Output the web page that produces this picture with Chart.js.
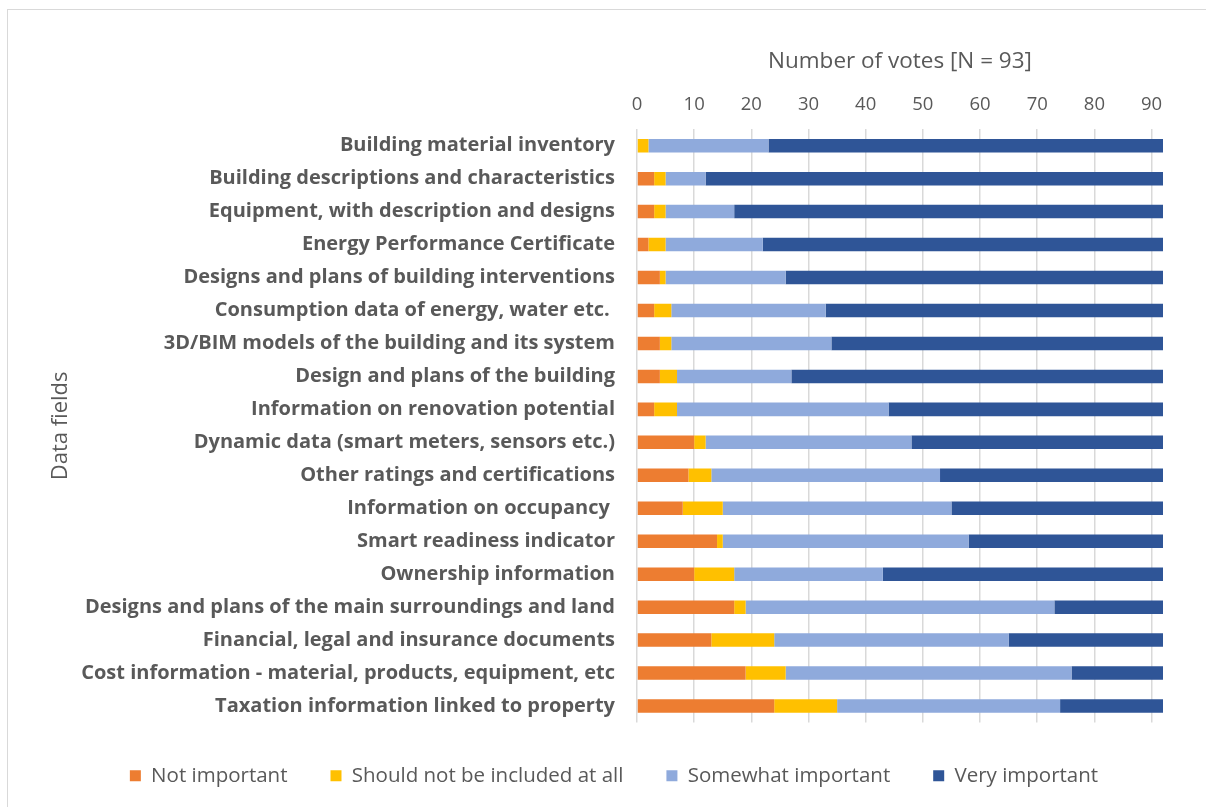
<!DOCTYPE html>
<html>
<head>
<meta charset="utf-8">
<script src="https://cdn.jsdelivr.net/npm/chart.js@4/dist/chart.umd.min.js"></script>
<style>
  html, body { margin: 0; padding: 0; background: #fff; }
  #wrap { position: relative; width: 1206px; height: 807px; overflow: hidden; }
  #frame { position: absolute; left: 7px; top: 9px; width: 1210px; height: 810px; border: 1px solid #d9d9d9; box-sizing: border-box; }
  #chart { position: absolute; left: 0; top: 0; }
</style>
</head>
<body>
<div id="wrap">
  <div id="frame"></div>
  <canvas id="chart" width="1206" height="807"></canvas>
</div>
<script>
// data fields, top to bottom
const fields = [
  "Building material inventory",
  "Building descriptions and characteristics",
  "Equipment, with description and designs",
  "Energy Performance Certificate",
  "Designs and plans of building interventions",
  "Consumption data of energy, water etc. ",
  "3D/BIM models of the building and its system",
  "Design and plans of the building",
  "Information on renovation potential",
  "Dynamic data (smart meters, sensors etc.)",
  "Other ratings and certifications",
  "Information on occupancy ",
  "Smart readiness indicator",
  "Ownership information",
  "Designs and plans of the main surroundings and land",
  "Financial, legal and insurance documents",
  "Cost information - material, products, equipment, etc",
  "Taxation information linked to property"
];

const notImportant   = [0, 3, 3, 2, 4, 3, 4, 4, 3, 10, 9, 8, 14, 10, 17, 13, 19, 24];
const notIncluded    = [2, 2, 2, 3, 1, 3, 2, 3, 4, 2, 4, 7, 1, 7, 2, 11, 7, 11];
const somewhat       = [21, 7, 12, 17, 21, 27, 28, 20, 37, 36, 40, 40, 43, 26, 54, 41, 50, 39];
const veryImportant  = [69, 80, 75, 70, 66, 59, 58, 65, 48, 44, 39, 37, 34, 49, 19, 27, 16, 18];

const axisMax = 92;
const textGrey = "#595959";
const fontFam = "'Open Sans', sans-serif";
const padLeft = 65;

function ds(label, data, color) {
  return {
    label: label,
    data: data,
    backgroundColor: color,
    borderWidth: 0,
    barPercentage: 0.82,
    categoryPercentage: 0.5
  };
}

const chart = new Chart(document.getElementById("chart"), {
  type: "bar",
  data: {
    labels: fields,
    datasets: [
      ds("Not important", notImportant, "#ED7D31"),
      ds("Should not be included at all", notIncluded, "#FFC000"),
      ds("Somewhat important", somewhat, "#8FAADC"),
      ds("Very important", veryImportant, "#2F5597")
    ]
  },
  options: {
    indexAxis: "y",
    responsive: false,
    animation: false,
    layout: {
      padding: { left: padLeft, right: 43, top: 48, bottom: 11 }
    },
    scales: {
      x: {
        stacked: true,
        position: "top",
        min: 0,
        max: axisMax,
        ticks: {
          stepSize: 10,
          includeBounds: false,
          color: textGrey,
          padding: 13,
          font: { family: fontFam, size: 18.5 }
        },
        grid: { color: "#d9d9d9", lineWidth: 1.5, drawTicks: false },
        border: { display: false },
        title: {
          display: true,
          text: "Number of votes [N = 93]",
          color: textGrey,
          padding: { top: 0, bottom: 6 },
          font: { family: fontFam, size: 22.5 }
        }
      },
      y: {
        stacked: true,
        ticks: {
          color: textGrey,
          padding: 22,
          autoSkip: false,
          font: { family: fontFam, size: 20, weight: "bold" }
        },
        grid: { display: false, drawTicks: false },
        border: { display: false },
        title: {
          display: true,
          text: "Data fields",
          color: textGrey,
          padding: { top: -17, bottom: 0 },
          font: { family: fontFam, size: 22 }
        },
        afterFit: function (scale) {
          scale.width = 637 - padLeft;
        }
      }
    },
    plugins: {
      legend: {
        position: "bottom",
        labels: {
          color: textGrey,
          boxWidth: 11,
          boxHeight: 11,
          padding: 43,
          font: { family: fontFam, size: 20.5 }
        }
      },
      tooltip: { enabled: false }
    }
  }
});
</script>
</body>
</html>
